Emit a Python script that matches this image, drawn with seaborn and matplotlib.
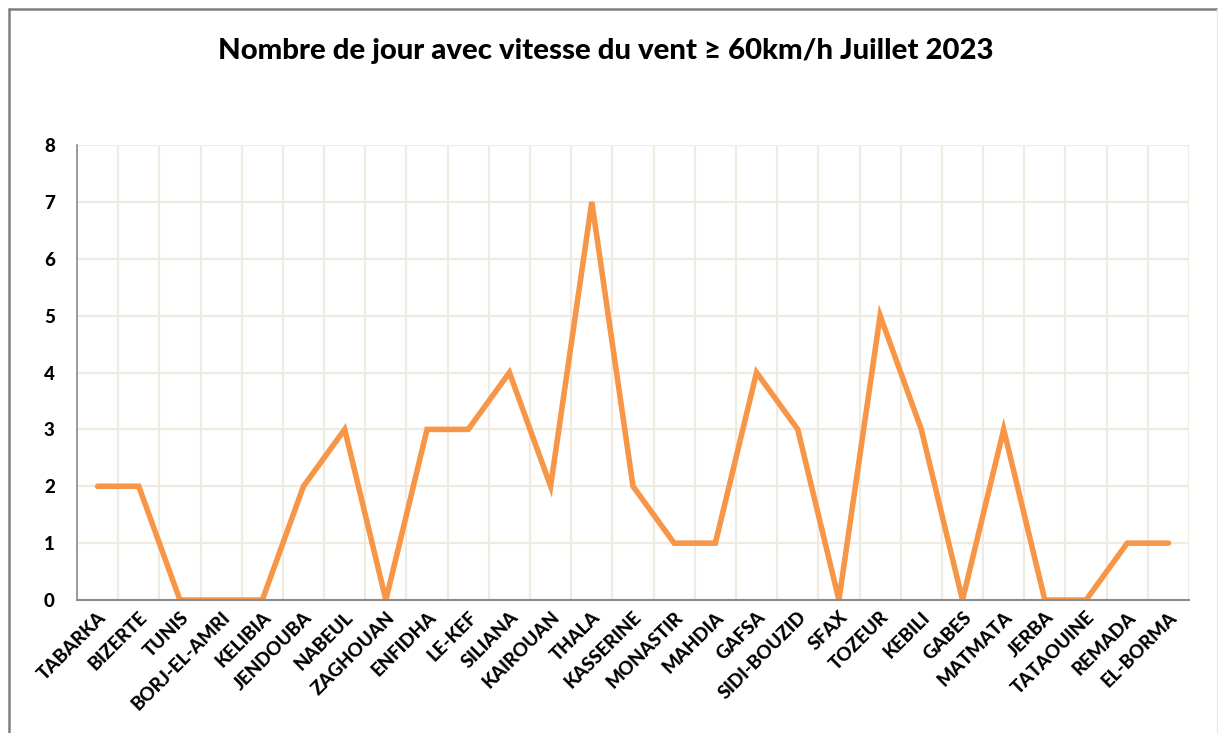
import matplotlib
matplotlib.use("Agg")
import matplotlib.pyplot as plt
import seaborn as sns
import pandas as pd
from matplotlib.lines import Line2D
from matplotlib.ticker import MultipleLocator

stations = ["TABARKA", "BIZERTE", "TUNIS", "BORJ-EL-AMRI", "KELIBIA", "JENDOUBA",
            "NABEUL", "ZAGHOUAN", "ENFIDHA", "LE-KEF", "SILIANA", "KAIROUAN",
            "THALA", "KASSERINE", "MONASTIR", "MAHDIA", "GAFSA", "SIDI-BOUZID",
            "SFAX", "TOZEUR", "KEBILI", "GABES", "MATMATA", "JERBA", "TATAOUINE",
            "REMADA", "EL-BORMA"]
jours = [2, 2, 0, 0, 0, 2, 3, 0, 3, 3, 4, 2, 7, 2, 1, 1, 4, 3, 0, 5, 3, 0, 3, 0, 0, 1, 1]
yticks = [0, 1, 2, 3, 4, 5, 6, 7, 8]

df = pd.DataFrame({"station": stations, "jours": jours})
df["pos"] = range(len(df))

sns.set_style("white")
plt.rcParams["font.family"] = ["Lato", "DejaVu Sans"]

fig = plt.figure(figsize=(12.18, 7.33), dpi=100)
ax = fig.add_axes([0.0632, 0.1814, 0.913, 0.6208])

sns.lineplot(data=df, x="pos", y="jours", color="#F79646", linewidth=4,
             ax=ax, solid_capstyle="round", solid_joinstyle="miter")

ax.set_xlim(-0.5, len(stations) - 0.5)
ax.set_ylim(0, 8)
ax.set_yticks(yticks)
ax.set_xticks(range(len(stations)))
ax.set_xticklabels(stations, rotation=45, ha="right", rotation_mode="anchor",
                   fontsize=13.5, fontweight=900, color="black")
for lab in ax.get_yticklabels():
    lab.set_fontsize(13.5)
    lab.set_fontweight(900)
    lab.set_color("black")
ax.xaxis.set_minor_locator(MultipleLocator(1, offset=0.5))
ax.grid(True, which="minor", axis="x", color="#EEECE1", linewidth=1.6)
ax.grid(True, which="major", axis="y", color="#EEECE1", linewidth=1.6)
ax.set_axisbelow(True)
ax.tick_params(axis="both", which="both", length=0)
ax.tick_params(axis="x", pad=6)
ax.tick_params(axis="y", pad=16)
ax.set_xlabel("")
ax.set_ylabel("")

for s in ["top", "right"]:
    ax.spines[s].set_visible(False)
ax.spines["left"].set_color("#8C8C8C")
ax.spines["bottom"].set_color("#8C8C8C")
ax.spines["left"].set_linewidth(1.2)
ax.spines["bottom"].set_linewidth(1.5)

fig.text(0.497, 0.930, "Nombre de jour avec vitesse du vent \u2265 60km/h Juillet 2023",
         ha="center", va="center", fontsize=21.2, fontweight=900, color="black",
         family=["Lato", "DejaVu Sans"])

# cadre du graphique
fig.add_artist(Line2D([8.5 / 1218, 8.5 / 1218], [0, 1 - 8.5 / 733],
                      transform=fig.transFigure, color="#7F7F7F", linewidth=1.8))
fig.add_artist(Line2D([8.5 / 1218, 1], [1 - 8.5 / 733, 1 - 8.5 / 733],
                      transform=fig.transFigure, color="#7F7F7F", linewidth=1.8))
fig.add_artist(Line2D([1216.5 / 1218, 1216.5 / 1218], [0, 1 - 8.5 / 733],
                      transform=fig.transFigure, color="#E8E8E8", linewidth=1))

fig.savefig("out.png", dpi=100)
